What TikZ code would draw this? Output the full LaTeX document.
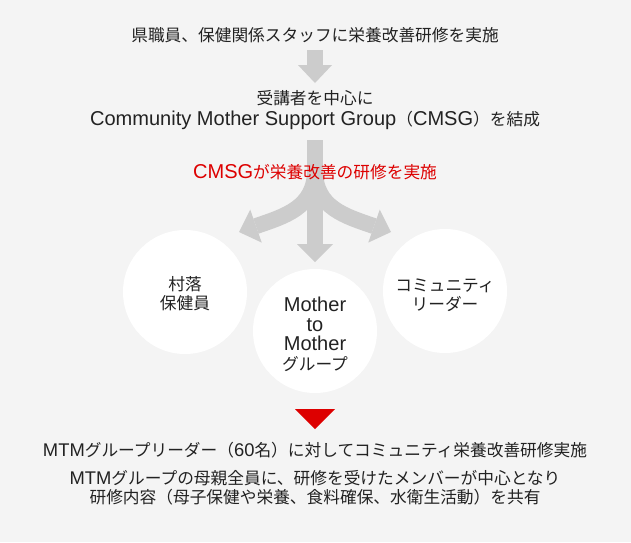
\documentclass[tikz,border=0pt]{standalone}
\usepackage{fontspec}
\setmainfont{Noto Sans CJK JP}
\newfontfamily\lat{Liberation Sans}[Scale=1.2]
\newfontfamily\latb{Liberation Sans}[Scale=1.1]
\definecolor{bggray}{HTML}{F4F4F4}
\definecolor{arrowgray}{HTML}{CCCCCC}
\definecolor{txt}{HTML}{222222}
\definecolor{redmark}{RGB}{221,0,0}
\begin{document}
\begin{tikzpicture}[x=1pt,y=-1pt,
  txtnode/.style={inner sep=0pt, align=center, text=txt, font={\fontsize{16.7}{21}\selectfont}},
  circ/.style={circle, fill=white, minimum size=124pt, inner sep=0pt},
  circtext/.style={inner sep=0pt, align=center, text=txt, font={\fontsize{16.7}{19.5}\selectfont}},
  shaft/.style={draw=arrowgray, line width=16pt},
  head/.style={fill=arrowgray}]
\fill[bggray] (0,0) rectangle (631,542);
\useasboundingbox (0,0) rectangle (631,542);

% top arrow
\coordinate (a1s) at (315,50);
\coordinate (a1b) at (315,65.5);
\draw[shaft] (a1s) -- (a1b);
\fill[head] (298,65) -- (332,65) -- (315,83) -- cycle;

% branching arrow
\coordinate (st) at (315,140);
\coordinate (sb) at (315,244.5);
\draw[shaft] (st) -- (sb);
\fill[head] (297,244) -- (333,244) -- (315,262) -- cycle;
\draw[shaft] (315,170) .. controls (315,208) and (284.3,216.2) .. (256,226.1);
\fill[head] (239,232) -- (250.25,209.6) -- (261.75,242.6) -- cycle;
\draw[shaft] (315,170) .. controls (315,208) and (345.7,216.2) .. (374,226.1);
\fill[head] (391,232) -- (379.75,209.6) -- (368.25,242.6) -- cycle;

% texts
\node[txtnode] (t1) at (315,35.5) {県職員、保健関係スタッフに栄養改善研修を実施};
\node[txtnode] (t2) at (315,110.5) {受講者を中心に\\{\lat Community Mother Support Group}（{\lat CMSG}）を結成};
\node[txtnode, text=redmark] (t3) at (315,172) {{\lat CMSG}が栄養改善の研修を実施};

% circles
\node[circ] (c1) at (185,292) {};
\node[circ] (c2) at (315,331) {};
\node[circ] (c3) at (445,291) {};
\node[circtext] (c1t) at (185,293.5) {村落\\保健員};
\node[circtext] (c2t) at (315,334.5) {{\lat Mother}\\{\lat to}\\{\lat Mother}\\グループ};
\node[circtext] (c3t) at (445,295) {コミュニティ\\リーダー};

% red triangle
\fill[redmark] (295,409) -- (335,409) -- (315,429) -- cycle;

% bottom texts
\node[txtnode] (b1) at (315,450) {{\latb MTM}グループリーダー（{\latb 60}名）に対してコミュニティ栄養改善研修実施};
\node[txtnode, font={\fontsize{16.7}{19}\selectfont}] (b2) at (315,487.5) {{\latb MTM}グループの母親全員に、研修を受けたメンバーが中心となり\\研修内容（母子保健や栄養、食料確保、水衛生活動）を共有};
\end{tikzpicture}
\end{document}
